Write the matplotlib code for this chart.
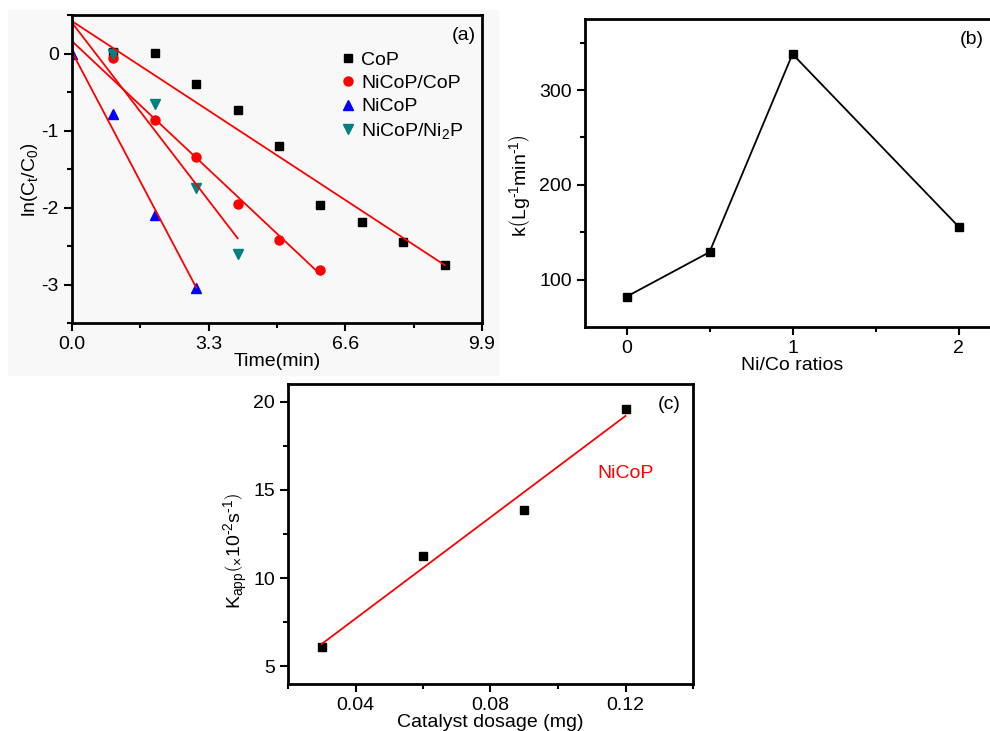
import matplotlib

matplotlib.use("Agg")
import matplotlib.pyplot as plt
from matplotlib.patches import Rectangle
from matplotlib.ticker import FixedLocator, FormatStrFormatter, MultipleLocator

plt.rcParams["font.family"] = ["Liberation Sans", "DejaVu Sans"]
plt.rcParams["mathtext.fontset"] = "custom"
plt.rcParams["mathtext.rm"] = "Liberation Sans"
plt.rcParams["mathtext.it"] = "Liberation Sans"
plt.rcParams["axes.unicode_minus"] = False

# (a) ln(Ct/C0) vs time
cop_t = [1, 2, 3, 4, 5, 6, 7, 8, 9]
cop_ln = [0.02, 0.01, -0.40, -0.74, -1.20, -1.97, -2.19, -2.45, -2.75]
nicop_cop_t = [1, 2, 3, 4, 5, 6]
nicop_cop_ln = [-0.06, -0.87, -1.34, -1.96, -2.42, -2.81]
nicop_t = [0, 1, 2, 3]
nicop_ln = [0.0, -0.79, -2.10, -3.04]
nicop_ni2p_t = [1, 2, 3, 4]
nicop_ni2p_ln = [0.0, -0.65, -1.75, -2.61]

# fitted lines: intercept, slope, last time
fit_intercepts = [0.42, 0.16, 0.02, 0.40]
fit_slopes = [-0.352, -0.505, -1.02, -0.70]
fit_ends = [9, 6, 3, 4]

# (b) rate constant vs Ni/Co ratio
ratios = [0, 0.5, 1, 2]
k_values = [82, 129, 338, 156]

# (c) k_app vs catalyst dosage
dosage = [0.03, 0.06, 0.09, 0.12]
k_app = [6.08, 11.27, 13.86, 19.57]
k_app_fit = [6.27, 19.19]

FS = 14


def style_axes(ax):
    for side in ax.spines.values():
        side.set_linewidth(2)
    ax.tick_params(which="both", direction="out", top=False, right=False,
                   labelsize=FS, width=1.5)
    ax.tick_params(which="major", length=6)
    ax.tick_params(which="minor", length=3.5)


fig = plt.figure(figsize=(9.9, 7.31), dpi=100)
fig.patches.append(Rectangle((8 / 990, 1 - 375 / 731), 490 / 990, 365 / 731,
                             transform=fig.transFigure, color="#f8f8f8",
                             zorder=-5))

# panel (a)
ax_a = fig.add_axes([72 / 990, 1 - 323 / 731, 410 / 990, 308 / 731])
ax_a.set_facecolor("none")
ax_a.plot(cop_t, cop_ln, "s", color="black", ms=6, label="CoP")
ax_a.plot(nicop_cop_t, nicop_cop_ln, "o", color="#ff0000", ms=6.5,
          label="NiCoP/CoP")
ax_a.plot(nicop_t, nicop_ln, "^", color="#0000ff", ms=7, label="NiCoP")
ax_a.plot(nicop_ni2p_t, nicop_ni2p_ln, "v", color="#008080", ms=7,
          label="NiCoP/Ni$_2$P")
for b, m, end in zip(fit_intercepts, fit_slopes, fit_ends):
    ax_a.plot([0, end], [b, b + m * end], color="#ff0000", lw=1.3)
ax_a.set_xlim(0, 9.9)
ax_a.set_ylim(-3.5, 0.5)
ax_a.xaxis.set_major_locator(FixedLocator([0, 3.3, 6.6, 9.9]))
ax_a.xaxis.set_minor_locator(FixedLocator([1.65, 4.95, 8.25]))
ax_a.xaxis.set_major_formatter(FormatStrFormatter("%.1f"))
ax_a.yaxis.set_major_locator(MultipleLocator(1))
ax_a.yaxis.set_minor_locator(MultipleLocator(0.5))
style_axes(ax_a)
ax_a.set_xlabel("Time(min)", fontsize=FS, labelpad=0)
ax_a.set_ylabel(r"ln$\left(\mathrm{C_t/C_0}\right)$", fontsize=FS)
ax_a.yaxis.set_label_coords(-0.078, 0.464)
ax_a.text(0.985, 0.96, "(a)", transform=ax_a.transAxes, ha="right",
          va="top", fontsize=FS)
ax_a.legend(loc="upper left", bbox_to_anchor=(0.63, 0.915), frameon=False,
            fontsize=FS, handlelength=0.8, handletextpad=0.3,
            labelspacing=0.3, borderpad=0)

# panel (b)
ax_b = fig.add_axes([585 / 990, 1 - 327 / 731, 415 / 990, 308 / 731])
ax_b.plot(ratios, k_values, "-s", color="black", lw=1.3, ms=5.5)
ax_b.set_xlim(-0.25, 2.25)
ax_b.set_ylim(50, 375)
ax_b.xaxis.set_major_locator(MultipleLocator(1))
ax_b.xaxis.set_minor_locator(MultipleLocator(0.5))
ax_b.yaxis.set_major_locator(FixedLocator([100, 200, 300]))
ax_b.yaxis.set_minor_locator(FixedLocator([150, 250, 350]))
style_axes(ax_b)
ax_b.set_xlabel("Ni/Co ratios", fontsize=FS, labelpad=0)
ax_b.set_ylabel(r"k$\left(\mathrm{Lg}^{\text{-}1}\mathrm{min}^{\text{-}1}\right)$",
                fontsize=FS)
ax_b.yaxis.set_label_coords(-0.128, 0.458)
ax_b.text(0.96, 0.96, "(b)", transform=ax_b.transAxes, ha="right",
          va="top", fontsize=FS)

# panel (c)
ax_c = fig.add_axes([288 / 990, 1 - 684 / 731, 405 / 990, 300 / 731])
ax_c.plot(dosage, k_app, "s", color="black", ms=5.5)
ax_c.plot([dosage[0], dosage[-1]], k_app_fit, color="#ff0000", lw=1.3)
ax_c.set_xlim(0.02, 0.14)
ax_c.set_ylim(4, 21)
ax_c.xaxis.set_major_locator(FixedLocator([0.04, 0.08, 0.12]))
ax_c.xaxis.set_minor_locator(FixedLocator([0.02, 0.06, 0.10, 0.14]))
ax_c.xaxis.set_major_formatter(FormatStrFormatter("%.2f"))
ax_c.yaxis.set_major_locator(FixedLocator([5, 10, 15, 20]))
ax_c.yaxis.set_minor_locator(FixedLocator([7.5, 12.5, 17.5]))
style_axes(ax_c)
ax_c.set_xlabel("Catalyst dosage (mg)", fontsize=FS, labelpad=0)
ax_c.set_ylabel(
    r"K$_{\mathrm{app}}\left(_{\times}10^{\text{-}2}\mathrm{s}^{\text{-}1}\right)$",
    fontsize=FS)
ax_c.yaxis.set_label_coords(-0.094, 0.443)
ax_c.text(0.12, 15.95, "NiCoP", color="#ff0000", ha="center", va="center",
          fontsize=FS)
ax_c.text(0.97, 0.96, "(c)", transform=ax_c.transAxes, ha="right",
          va="top", fontsize=FS)

fig.savefig("out.png", dpi=100)
